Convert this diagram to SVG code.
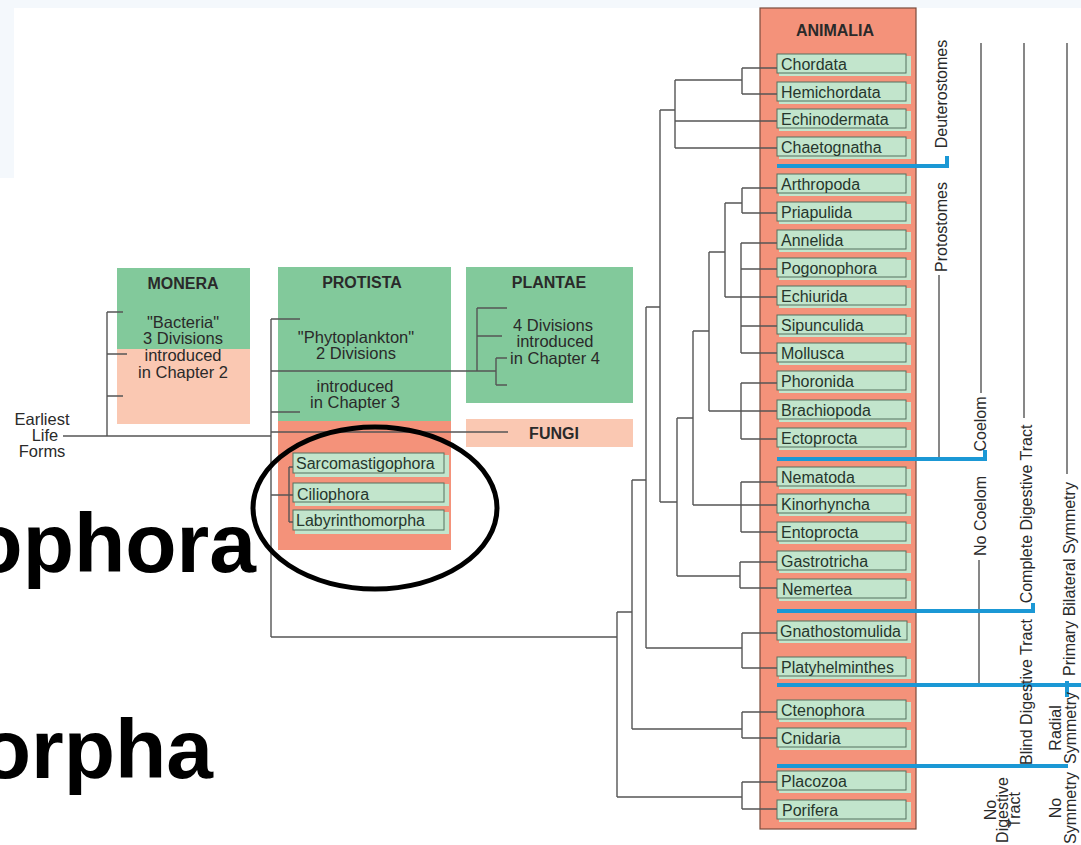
<svg xmlns="http://www.w3.org/2000/svg" width="1081" height="845" viewBox="0 0 1081 845">
<style>
text{font-family:"Liberation Sans",Arial,sans-serif;}
.hdr{font-size:16px;font-weight:bold;fill:#2a2a2a;text-anchor:middle;}
.lbl{font-size:16.5px;fill:#2a2a2a;text-anchor:middle;}
.row{font-size:16px;fill:#26362c;}
.rot{font-size:16px;fill:#2a2a2a;text-anchor:middle;}
.big{font-size:84px;font-weight:bold;fill:#000;text-anchor:end;}
.green{fill:#82c99b;}
.pink{fill:#fac8b2;}
.orange{fill:#f4927a;}
.sbf{fill:#c2e5cc;}
.sbs{fill:#c2e5cc;stroke:#55705e;stroke-width:1;}
.ln{fill:none;stroke:#555;stroke-width:1.4;}
.blue{fill:none;stroke:#1b98d5;stroke-width:4;}
</style>
<rect x="0" y="0" width="1081" height="845" fill="#ffffff"/>
<rect x="0" y="0" width="1081" height="8" fill="#f4f8fc"/>
<rect x="0" y="0" width="14" height="178" fill="#f4f8fc"/>

<g id="monera">
<rect class="green" x="117" y="268" width="133" height="81"/>
<rect class="pink" x="117" y="349" width="133" height="75"/>
<text class="hdr" x="183" y="289">MONERA</text>
<text class="lbl" x="183" y="328">"Bacteria"</text>
<text class="lbl" x="183" y="344">3 Divisions</text>
<text class="lbl" x="183" y="361">introduced</text>
<text class="lbl" x="183" y="378">in Chapter 2</text>
</g>

<g id="earliest">
<text class="lbl" x="42" y="425">Earliest</text>
<text class="lbl" x="45" y="441">Life</text>
<text class="lbl" x="42" y="457">Forms</text>
</g>

<g id="protista">
<rect class="green" x="278" y="267" width="173" height="154"/>
<rect class="orange" x="278" y="421" width="173" height="129"/>
<text class="hdr" x="362" y="288">PROTISTA</text>
<text class="lbl" x="356" y="343">"Phytoplankton"</text>
<text class="lbl" x="356" y="359">2 Divisions</text>
<text class="lbl" x="355" y="392">introduced</text>
<text class="lbl" x="355" y="408">in Chapter 3</text>
</g>

<g id="sarcomastigophora">
<rect class="sbf" x="295" y="455" width="154" height="22"/>
<rect class="sbs" x="293" y="453" width="151" height="20"/>
<text class="row" x="296" y="469">Sarcomastigophora</text>
</g>
<g id="ciliophora">
<rect class="sbf" x="295" y="484" width="154" height="22"/>
<rect class="sbs" x="293" y="483" width="151" height="19"/>
<text class="row" x="297" y="500">Ciliophora</text>
</g>
<g id="labyrinthomorpha">
<rect class="sbf" x="295" y="512" width="154" height="22"/>
<rect class="sbs" x="293" y="510" width="151" height="20"/>
<text class="row" x="296" y="526">Labyrinthomorpha</text>
</g>

<g id="plantae">
<rect class="green" x="466" y="267" width="167" height="136"/>
<text class="hdr" x="549" y="288">PLANTAE</text>
<text class="lbl" x="553" y="331">4 Divisions</text>
<text class="lbl" x="555" y="347">introduced</text>
<text class="lbl" x="555" y="364">in Chapter 4</text>
</g>

<g id="fungi">
<rect class="pink" x="466" y="419" width="167" height="28"/>
<text class="hdr" x="554" y="439">FUNGI</text>
</g>

<g id="animalia">
<rect class="orange" x="760" y="8" width="156" height="821" stroke="#7a4c3c" stroke-width="1.2"/>
<text class="hdr" x="835" y="36">ANIMALIA</text>
</g>

<g id="phyla">
<g id="chordata"><rect class="sbf" x="779" y="56" width="132" height="20"/><rect class="sbs" x="777" y="54" width="129" height="19"/><text class="row" x="781" y="70">Chordata</text></g>
<g id="hemichordata"><rect class="sbf" x="779" y="84" width="132" height="20"/><rect class="sbs" x="777" y="82" width="129" height="19"/><text class="row" x="781" y="98">Hemichordata</text></g>
<g id="echinodermata"><rect class="sbf" x="779" y="111" width="132" height="20"/><rect class="sbs" x="777" y="109" width="129" height="19"/><text class="row" x="781" y="125">Echinodermata</text></g>
<g id="chaetognatha"><rect class="sbf" x="779" y="139" width="132" height="20"/><rect class="sbs" x="777" y="137" width="129" height="19"/><text class="row" x="781" y="153">Chaetognatha</text></g>
<g id="arthropoda"><rect class="sbf" x="779" y="176" width="132" height="20"/><rect class="sbs" x="777" y="174" width="129" height="19"/><text class="row" x="781" y="190">Arthropoda</text></g>
<g id="priapulida"><rect class="sbf" x="779" y="204" width="132" height="20"/><rect class="sbs" x="777" y="202" width="129" height="19"/><text class="row" x="781" y="218">Priapulida</text></g>
<g id="annelida"><rect class="sbf" x="779" y="232" width="132" height="20"/><rect class="sbs" x="777" y="230" width="129" height="19"/><text class="row" x="781" y="246">Annelida</text></g>
<g id="pogonophora"><rect class="sbf" x="779" y="260" width="132" height="20"/><rect class="sbs" x="777" y="258" width="129" height="19"/><text class="row" x="781" y="274">Pogonophora</text></g>
<g id="echiurida"><rect class="sbf" x="779" y="288" width="132" height="20"/><rect class="sbs" x="777" y="286" width="129" height="19"/><text class="row" x="781" y="302">Echiurida</text></g>
<g id="sipunculida"><rect class="sbf" x="779" y="317" width="132" height="20"/><rect class="sbs" x="777" y="315" width="129" height="19"/><text class="row" x="781" y="331">Sipunculida</text></g>
<g id="mollusca"><rect class="sbf" x="779" y="345" width="132" height="20"/><rect class="sbs" x="777" y="343" width="129" height="19"/><text class="row" x="781" y="359">Mollusca</text></g>
<g id="phoronida"><rect class="sbf" x="779" y="373" width="132" height="20"/><rect class="sbs" x="777" y="371" width="129" height="19"/><text class="row" x="781" y="387">Phoronida</text></g>
<g id="brachiopoda"><rect class="sbf" x="779" y="402" width="132" height="20"/><rect class="sbs" x="777" y="400" width="129" height="19"/><text class="row" x="781" y="416">Brachiopoda</text></g>
<g id="ectoprocta"><rect class="sbf" x="779" y="430" width="132" height="20"/><rect class="sbs" x="777" y="428" width="129" height="19"/><text class="row" x="781" y="444">Ectoprocta</text></g>
<g id="nematoda"><rect class="sbf" x="779" y="469" width="132" height="20"/><rect class="sbs" x="777" y="467" width="129" height="19"/><text class="row" x="781" y="483">Nematoda</text></g>
<g id="kinorhyncha"><rect class="sbf" x="779" y="496" width="132" height="20"/><rect class="sbs" x="777" y="494" width="129" height="19"/><text class="row" x="781" y="510">Kinorhyncha</text></g>
<g id="entoprocta"><rect class="sbf" x="779" y="524" width="132" height="20"/><rect class="sbs" x="777" y="522" width="129" height="19"/><text class="row" x="781" y="538">Entoprocta</text></g>
<g id="gastrotricha"><rect class="sbf" x="779" y="553" width="132" height="20"/><rect class="sbs" x="777" y="551" width="129" height="19"/><text class="row" x="781" y="567">Gastrotricha</text></g>
<g id="nemertea"><rect class="sbf" x="779" y="581" width="132" height="20"/><rect class="sbs" x="777" y="579" width="129" height="19"/><text class="row" x="782" y="595">Nemertea</text></g>
<g id="gnathostomulida"><rect class="sbf" x="779" y="623" width="132" height="20"/><rect class="sbs" x="777" y="621" width="130" height="19"/><text class="row" x="780" y="637">Gnathostomulida</text></g>
<g id="platyhelminthes"><rect class="sbf" x="779" y="659" width="132" height="20"/><rect class="sbs" x="777" y="657" width="129" height="19"/><text class="row" x="781" y="673">Platyhelminthes</text></g>
<g id="ctenophora"><rect class="sbf" x="779" y="702" width="132" height="20"/><rect class="sbs" x="777" y="700" width="129" height="19"/><text class="row" x="781" y="716">Ctenophora</text></g>
<g id="cnidaria"><rect class="sbf" x="779" y="730" width="132" height="20"/><rect class="sbs" x="777" y="728" width="129" height="19"/><text class="row" x="781" y="744">Cnidaria</text></g>
<g id="placozoa"><rect class="sbf" x="779" y="773" width="132" height="20"/><rect class="sbs" x="777" y="771" width="129" height="19"/><text class="row" x="781" y="787">Placozoa</text></g>
<g id="porifera"><rect class="sbf" x="779" y="802" width="132" height="20"/><rect class="sbs" x="777" y="800" width="129" height="19"/><text class="row" x="782" y="816">Porifera</text></g>
</g>

<g id="connectors">
<path class="ln" d="M63,436 H271 M107,312 V436 M107,312 H123 M107,354 H127 M107,396 H123"/>
<path class="ln" d="M271,319 V637 M271,319 H300 M271,371 H477 M271,412 H300 M271,432 H508 M271,495 H289 M289,467 V522 M289,467 H293 M289,495 H293 M289,522 H293"/>
<path class="ln" d="M477,308 V371 M477,308 H507 M477,336 H502 M477,371 H496 M496,358 V385 M496,358 H507 M496,385 H507"/>
<path class="ln" d="M271,637 H617 M617,612 H632 M617,612 V797 M617,797 H742 M742,782 V809 M742,782 H777 M742,809 H777"/>
<path class="ln" d="M632,480 H646 M632,480 V729 M632,729 H742 M742,712 V738 M742,712 H777 M742,738 H777"/>
<path class="ln" d="M646,307 V648 M646,648 H742 M742,633 V668 M742,633 H777 M742,668 H777"/>
<path class="ln" d="M646,307 H660 M660,110 V502 M660,110 H675 M675,80 V148 M675,80 H742 M742,68 V94 M742,68 H777 M742,94 H777 M675,121 H777 M675,148 H777"/>
<path class="ln" d="M660,502 H677 M677,418 V576 M677,418 H693 M677,576 H740 M740,562 V588 M740,562 H777 M740,588 H777"/>
<path class="ln" d="M693,331 V505 M693,505 H777 M741,482 V532 M741,482 H777 M741,532 H777"/>
<path class="ln" d="M693,331 H709 M709,252 V411 M709,411 H777 M741,383 V439 M741,383 H777 M741,439 H777"/>
<path class="ln" d="M709,252 H725 M725,203 V297 M725,297 H777 M725,203 H742 M742,188 V213 M742,188 H777 M742,213 H777"/>
<path class="ln" d="M741,243 V353 M741,243 H777 M741,269 H777 M741,326 H777 M741,353 H777"/>
<path class="ln" d="M939,275 V459 M981,43 V393 M979,560 V684 M1024,43 V418 M1067,43 V474"/>
</g>

<g id="dividers">
<path class="blue" d="M777,166 H947 V156"/>
<path class="blue" d="M777,459 H985 V450"/>
<path class="blue" d="M777,611 H1033 V603"/>
<path class="blue" d="M777,685 H1081 M1067,681 V697"/>
<path class="blue" d="M777,766 H1068"/>
</g>

<g id="groups">
<text class="rot" transform="translate(947,94) rotate(-90)">Deuterostomes</text>
<text class="rot" transform="translate(947,227) rotate(-90)">Protostomes</text>
<text class="rot" transform="translate(986,424) rotate(-90)">Coelom</text>
<text class="rot" transform="translate(986,516) rotate(-90)">No Coelom</text>
<text class="rot" transform="translate(1032,514) rotate(-90)">Complete Digestive Tract</text>
<text class="rot" transform="translate(1032,692) rotate(-90)">Blind Digestive Tract</text>
<text class="rot" transform="translate(1075,579) rotate(-90)">Primary Bilateral Symmetry</text>
<text class="rot" transform="translate(1061,728) rotate(-90)">Radial</text>
<text class="rot" transform="translate(1076,728) rotate(-90)">Symmetry</text>
<text class="rot" transform="translate(996,810) rotate(-90)">No</text>
<text class="rot" transform="translate(1008,810) rotate(-90)">Digestive</text>
<text class="rot" transform="translate(1020,810) rotate(-90)">Tract</text>
<text class="rot" transform="translate(1061,808) rotate(-90)">No</text>
<text class="rot" transform="translate(1076,808) rotate(-90)">Symmetry</text>
</g>

<g id="highlight">
<ellipse cx="375" cy="508" rx="122" ry="81" fill="none" stroke="#000" stroke-width="5"/>
<text class="big" x="256" y="572">ophora</text>
<text class="big" x="213" y="778">orpha</text>
</g>
</svg>
